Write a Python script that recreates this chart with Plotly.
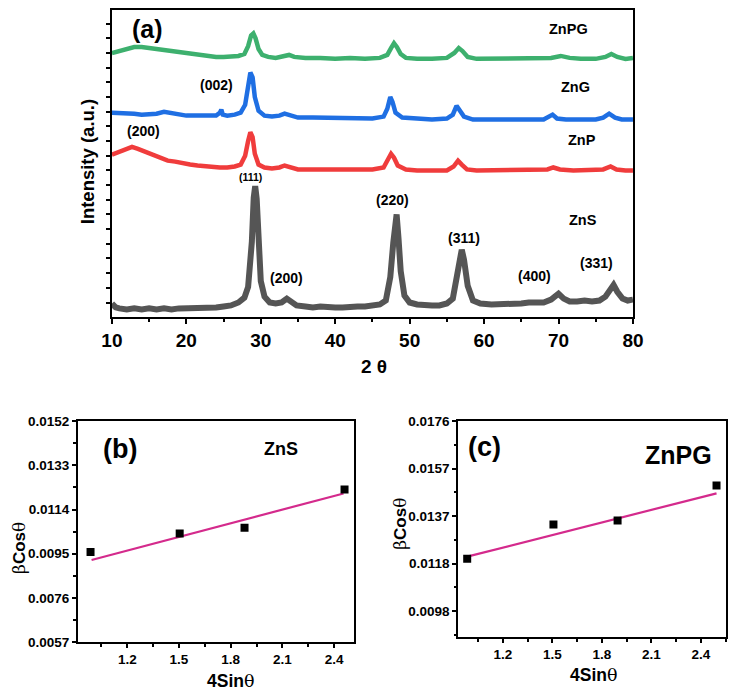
import plotly.graph_objects as go

W, H = 740, 698

# ---------------- Panel (a): XRD patterns (intensity, a.u. with vertical offsets) -------------
tt_znpg = [10, 11, 12, 13, 14, 15, 16, 17, 18, 19, 20, 21, 22, 23, 24, 25, 26, 27, 27.8, 28.3, 28.7, 29.0, 29.3,
           29.7, 30.2, 31, 32, 33, 33.8, 34.5, 36, 38, 40, 42, 44, 46, 47, 47.5, 47.9, 48.3, 48.8, 49.5, 51, 53,
           55, 56, 56.6, 57.1, 57.8, 59, 61, 63, 65, 67, 69, 70.3, 71.5, 73, 75, 76.3, 77.1, 77.9, 79, 80]
i_znpg = [269, 271, 273, 275, 275, 274, 273, 271, 270, 269, 268, 267, 266, 266, 265, 265, 265, 266, 268, 276, 287,
          289, 284, 273, 267, 265, 264, 266, 267, 265, 264, 264, 263, 264, 263, 264, 267, 274, 279, 275, 268, 264,
          263, 263, 264, 269, 274, 271, 265, 263, 263, 263, 263, 263, 264, 266, 264, 263, 263, 265, 268, 265, 263, 264]

tt_zng = [10, 11, 12, 13, 14, 15, 16, 17, 17.8, 19, 20, 21, 22, 23, 24, 24.5, 24.7, 24.9, 25.5, 26.5, 27.3, 27.9,
          28.3, 28.6, 28.9, 29.2, 29.7, 30.5, 31.5, 32.5, 33.2, 34, 35, 37, 39, 41, 43, 45, 46.5, 47.0, 47.4, 47.7,
          48.1, 49, 51, 53, 55, 55.8, 56.3, 56.7, 57.3, 58.5, 60, 62, 64, 66, 68, 69.2, 69.8, 71, 73, 75, 76, 76.8,
          77.6, 78.5, 80]
i_zng = [208, 208, 207, 207, 206, 206, 207, 209, 208, 206, 205, 205, 205, 205, 205, 208, 211, 206, 205, 206, 208,
         216, 236, 249, 244, 224, 210, 205, 204, 205, 207, 205, 203, 203, 203, 202, 202, 202, 204, 212, 224, 219,
         208, 203, 202, 201, 202, 206, 215, 211, 204, 201, 201, 201, 201, 201, 201, 206, 202, 201, 201, 201, 203,
         207, 203, 201, 201]

tt_znp = [10, 11, 12, 12.7, 13.5, 14.5, 15.5, 16.5, 17.5, 18.5, 19.5, 20.5, 21.5, 22.5, 23.5, 24.5, 25.5, 26.5, 27.3,
          27.9, 28.3, 28.6, 28.9, 29.2, 29.7, 30.5, 31.5, 32.5, 33.2, 34, 35, 37, 39, 41, 43, 45, 46.5, 47.0, 47.5,
          47.9, 48.4, 49.5, 51, 53, 55, 55.9, 56.5, 57.0, 57.7, 59, 61, 63, 65, 67, 68.5, 69.3, 70.2, 72, 74, 76,
          77, 77.8, 79, 80]
i_znp = [165, 168, 171, 173, 171, 168, 165, 162, 159, 158, 156, 155, 154, 153, 153, 152, 152, 153, 155, 164, 179,
         188, 183, 166, 155, 152, 151, 152, 154, 152, 150, 150, 150, 150, 150, 150, 152, 159, 166, 162, 154, 150,
         149, 149, 149, 153, 159, 155, 150, 149, 149, 149, 149, 149, 150, 152, 150, 149, 149, 150, 153, 150, 149, 149]

tt_zns = [10, 10.5, 11, 12, 13, 14, 15, 16, 17, 18, 19, 20, 21, 22, 23, 24, 25, 26, 27, 27.8, 28.3, 28.8, 29.05,
          29.25, 29.45, 29.65, 30.0, 30.5, 31.2, 32, 32.8, 33.5, 34.0, 34.8, 36, 37, 38, 39, 40, 41, 42, 43, 44, 45,
          46, 46.8, 47.4, 47.8, 48.05, 48.25, 48.5, 48.8, 49.3, 50, 51, 52, 53, 54, 55, 55.8, 56.4, 56.8, 57.0,
          57.3, 57.8, 58.5, 59.5, 61, 62, 63, 64, 65, 66, 67, 68, 69, 70, 70.7, 71.5, 72.5, 73.5, 74.5, 75.5, 76.3,
          77.0, 77.4, 77.9, 78.6, 79.3, 80]
i_zns = [13, 9, 8, 7, 8, 7, 8, 7, 8, 7, 8, 8, 9, 8, 9, 9, 10, 11, 14, 19, 30, 76, 121, 133, 120, 76, 36, 20, 14, 13,
         14, 18, 15, 11, 10, 9, 10, 9, 9, 9, 10, 10, 10, 11, 12, 16, 40, 75, 103, 104, 80, 46, 21, 14, 12, 11, 11,
         11, 13, 18, 45, 66, 68, 58, 31, 16, 13, 12, 12, 13, 13, 13, 14, 14, 14, 17, 23, 18, 15, 15, 16, 15, 16, 20,
         29, 32, 25, 18, 16, 17]

xrd_names = ["ZnPG", "ZnG", "ZnP", "ZnS"]
xrd_colors = ["#3db06e", "#1f6fe3", "#f03c3c", "#555555"]

# ---------------- Panels (b), (c): Williamson-Hall plots ----------------
wh_x_zns = [0.987, 1.504, 1.880, 2.460]
wh_y_zns = [0.00957, 0.01037, 0.01062, 0.01226]
fit_x_zns = [0.993, 2.454]
fit_y_zns = [0.00923, 0.01209]

wh_x_znpg = [0.983, 1.506, 1.895, 2.495]
wh_y_znpg = [0.01198, 0.01338, 0.01354, 0.01497]
fit_x_znpg = [0.983, 2.495]
fit_y_znpg = [0.01206, 0.01465]

FIT_COLOR = "#d42a8c"
FONT = "Arial, Liberation Sans, Helvetica, sans-serif"


def px(x, y):
    return x / W, 1 - y / H


def dom_x(a, b):
    return [a / W, b / W]


def dom_y(top, bottom):
    return [1 - bottom / H, 1 - top / H]


fig = go.Figure()

for tt, ii, name, col, in zip([tt_znpg, tt_zng, tt_znp, tt_zns], [i_znpg, i_zng, i_znp, i_zns], xrd_names, xrd_colors):
    fig.add_trace(go.Scatter(x=tt, y=ii, mode="lines", name=name,
                             line=dict(color=col, width=6 if name == "ZnS" else 4.5),
                             xaxis="x", yaxis="y", showlegend=False))

# (b)
fig.add_trace(go.Scatter(x=fit_x_zns, y=fit_y_zns, mode="lines", line=dict(color=FIT_COLOR, width=2.2),
                         xaxis="x2", yaxis="y2", showlegend=False))
fig.add_trace(go.Scatter(x=wh_x_zns, y=wh_y_zns, mode="markers",
                         marker=dict(symbol="square", size=8, color="black"),
                         xaxis="x2", yaxis="y2", showlegend=False))
# (c)
fig.add_trace(go.Scatter(x=fit_x_znpg, y=fit_y_znpg, mode="lines", line=dict(color=FIT_COLOR, width=2.2),
                         xaxis="x3", yaxis="y3", showlegend=False))
fig.add_trace(go.Scatter(x=wh_x_znpg, y=wh_y_znpg, mode="markers",
                         marker=dict(symbol="square", size=8, color="black"),
                         xaxis="x3", yaxis="y3", showlegend=False))

axis_common = dict(showline=True, linecolor="black", linewidth=2, mirror=True, showgrid=False, zeroline=False,
                   ticks="outside", tickcolor="black", tickwidth=1.5)

TF_A = dict(size=19, weight="bold", family=FONT, color="black")
TF_B = dict(size=13.5, weight="bold", family=FONT, color="black")

fig.update_layout(
    width=W, height=H, margin=dict(l=0, r=0, t=0, b=0),
    paper_bgcolor="white", plot_bgcolor="white",
    font=dict(family=FONT, color="black"),
    xaxis=dict(domain=dom_x(104, 641), anchor="y", range=[10, 80], tick0=10, dtick=10, ticklen=5,
               tickfont=TF_A,
               minor=dict(dtick=5, ticklen=3, ticks="outside", tickcolor="black"), **axis_common),
    yaxis=dict(domain=dom_y(3, 316.7), anchor="x", range=[-0.7, 313], tick0=14, dtick=15, ticklen=4,
               showticklabels=False, **axis_common),
    xaxis2=dict(domain=dom_x(69, 353), anchor="y2", range=[0.914, 2.512], tick0=1.2, dtick=0.3, ticklen=4,
                tickformat=".1f", tickfont=TF_B,
                minor=dict(dtick=0.15, ticklen=2.5, ticks="outside", tickcolor="black"), **axis_common),
    yaxis2=dict(domain=dom_y(423, 649), anchor="x2", range=[0.0057, 0.01521], tick0=0.0057, dtick=0.0019,
                ticklen=4, tickformat=".4f", tickfont=TF_B,
                minor=dict(dtick=0.00095, ticklen=2.5, ticks="outside", tickcolor="black"), **axis_common),
    xaxis3=dict(domain=dom_x(461, 737), anchor="y3", range=[0.929, 2.553], tick0=1.2, dtick=0.3, ticklen=4,
                tickformat=".1f", tickfont=TF_B,
                minor=dict(dtick=0.15, ticklen=2.5, ticks="outside", tickcolor="black"), **axis_common),
    yaxis3=dict(domain=dom_y(423, 644), anchor="x3", range=[0.00877, 0.01761], tick0=0.00984, dtick=0.00194,
                ticklen=4, tickformat=".4f", tickfont=TF_B,
                minor=dict(tick0=0.00887, dtick=0.00097, ticklen=2.5, ticks="outside", tickcolor="black"),
                **axis_common),
)

SERIF = "DejaVu Serif, Liberation Serif, serif"


def ann(text, x, y, size, bold=True, angle=0):
    xx, yy = px(x, y)
    fig.add_annotation(text=f"<b>{text}</b>" if bold else text, x=xx, y=yy, xref="paper", yref="paper",
                       xanchor="center", yanchor="middle", showarrow=False, textangle=angle,
                       font=dict(size=size, family=FONT, color="black"))


# panel (a) labels
ann("(a)", 141, 22, 25)
ann("ZnPG", 575, 22, 14.5)
ann("ZnG", 582, 82, 14.5)
ann("ZnP", 588, 136, 14.5)
ann("ZnS", 590, 218, 14.5)
ann("(002)", 212, 80, 14)
ann("(200)", 137, 127, 14)
ann("(111)", 247, 174, 10.5)
ann("(200)", 284, 277, 14)
ann("(220)", 393, 197, 14)
ann("(311)", 467, 236, 14)
ann("(400)", 540, 275, 14)
ann("(331)", 603, 262, 14)
ann("Intensity (a.u.)", 79, 158, 18.5, angle=-90)
ann("2 θ", 374, 367, 19)

# panel (b) labels
ann("(b)", 112, 452, 27)
ann("ZnS", 278, 452, 18)
theta = f"<span style='font-family:{SERIF}'>θ</span>"
beta = f"<span style='font-family:{SERIF}'>β</span>"
ann(f"{beta}<b>Cos</b>{theta}", 8, 553, 17, bold=False, angle=-90)
ann(f"<b>4Sin</b>{theta}", 227, 689, 17.5, bold=False)

# panel (c) labels
ann("(c)", 488, 450, 27)
ann("ZnPG", 688, 458, 25)
ann(f"{beta}<b>Cos</b>{theta}", 401, 528, 17, bold=False, angle=-90)
ann(f"<b>4Sin</b>{theta}", 601, 683, 17.5, bold=False)

fig.write_html("out.html")
